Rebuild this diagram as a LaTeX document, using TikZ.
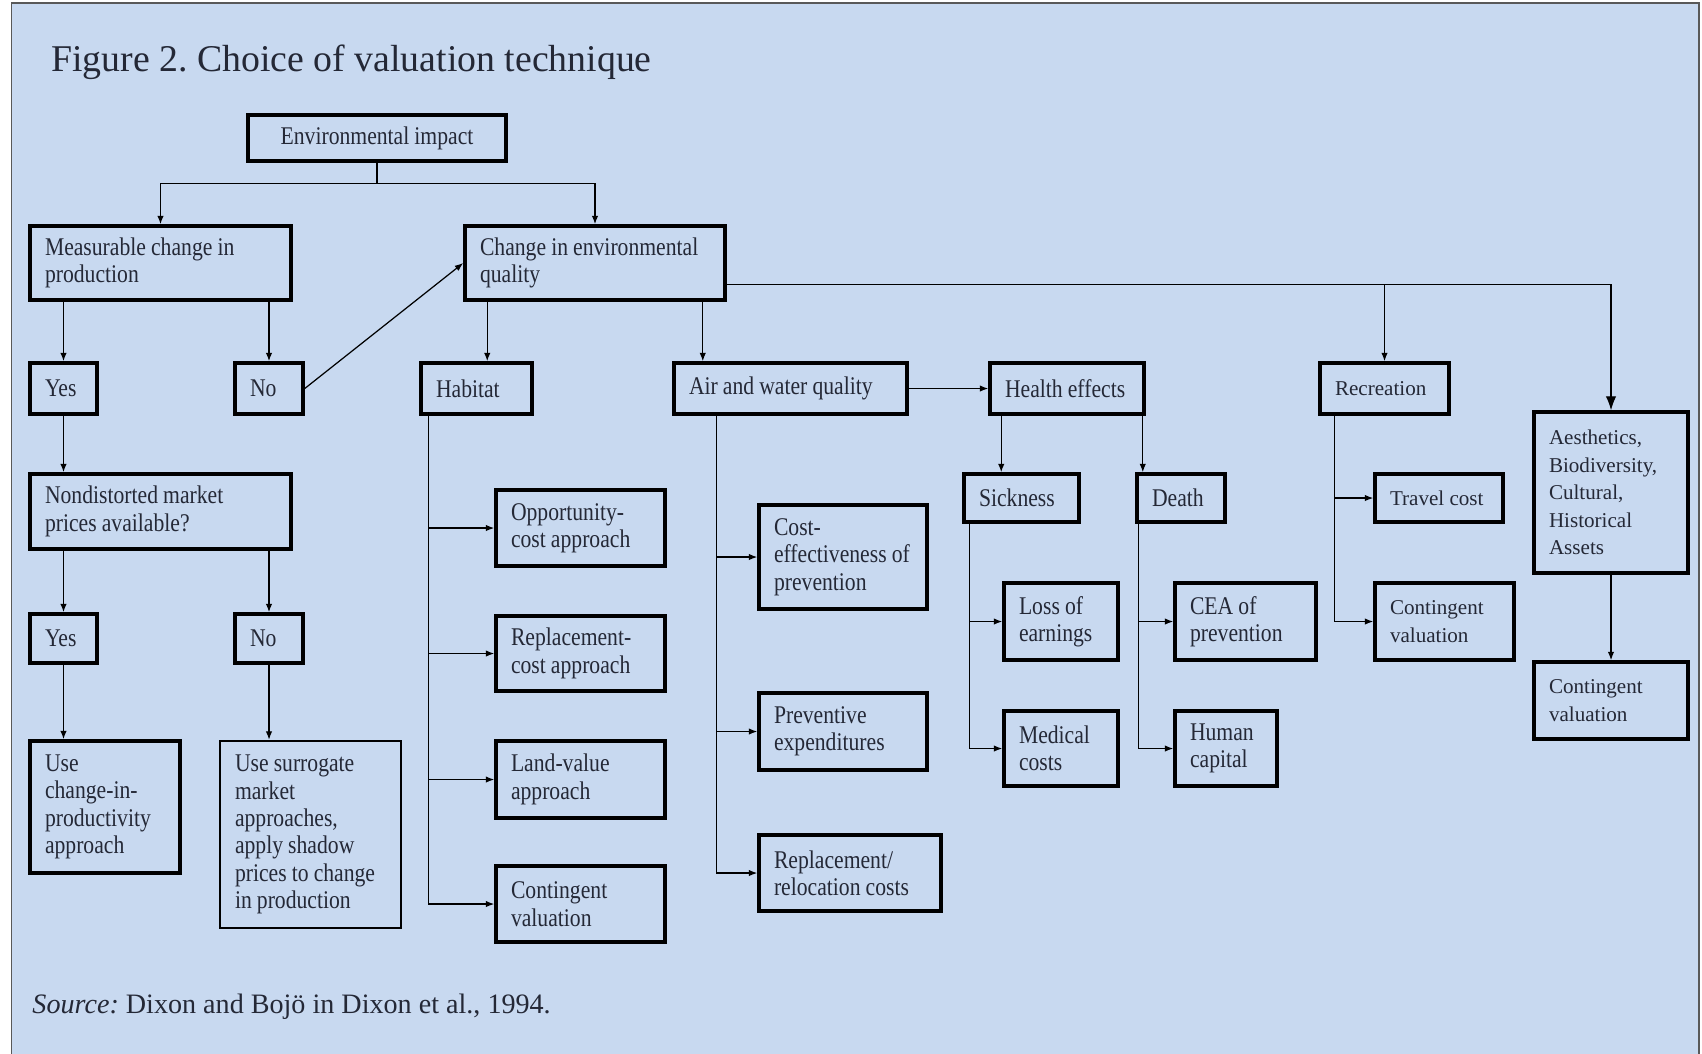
\documentclass[tikz,border=0pt]{standalone}
\usepackage{fontspec}
\setmainfont{Liberation Serif}
\newfontfamily\condfont[FakeStretch=0.85]{Liberation Serif}
\usepackage{xcolor}
\usepackage{tikz}
\usetikzlibrary{arrows.meta}

\definecolor{panel}{RGB}{200,217,240}
\definecolor{ink}{RGB}{36,40,54}
\frenchspacing

\begin{document}
\begin{tikzpicture}[>={Latex[length=1.7mm,width=1.3mm]}, line width=0.7pt]
            \tikzstyle{box} = [draw=black, line width=2pt, inner xsep=0.30cm, inner ysep=0.1cm, align=left, text=ink, font=\condfont\fontsize{14.5}{15.6}\selectfont, execute at begin node={\spaceskip=0.2em\relax}]
            \tikzstyle{rbox} = [box, font=\fontsize{12}{15.6}\selectfont, execute at begin node={\spaceskip=0.25em\relax}]
            \tikzstyle{big} = [-{Latex[length=2.8mm,width=2.1mm]}]

            \useasboundingbox (0,0) rectangle (34.04,-21.06);
            \fill [white] (0,0) rectangle (34.04,-21.06);
            \filldraw [fill=panel, draw=black!65, line width=0.8pt] (0.23,-0.06) rectangle (33.98,-21.2);

            \node [anchor=west, text=ink, font=\fontsize{21.5}{24}\selectfont] (title) at (0.9,-1.24) {Figure 2. Choice of valuation technique};
            \node [anchor=west, text=ink, font=\fontsize{16}{19}\selectfont] (source) at (0.52,-20.14) {\textit{Source:} Dixon and Bojö in Dixon et al., 1994.};

            % top of the tree
            \node [box, align=center, text width=4.56cm, minimum height=0.92cm] (EI) at (7.54,-2.76) {Environmental impact};
            \node [box, text width=4.62cm, minimum height=1.48cm] (Meas) at (3.21,-5.26) {Measurable change in\\production};
            \node [box, text width=4.60cm, minimum height=1.48cm] (Chg) at (11.90,-5.26) {Change in environmental\\quality};

            % production branch
            \node [box, text width=0.74cm, minimum height=1.02cm] (Yes1) at (1.27,-7.77) {Yes};
            \node [box, text width=0.76cm, minimum height=1.02cm] (No1) at (5.38,-7.77) {No};
            \node [box, text width=4.62cm, minimum height=1.50cm] (Mkt) at (3.21,-10.23) {Nondistorted market\\prices available?};
            \node [box, text width=0.74cm, minimum height=0.98cm] (Yes2) at (1.27,-12.77) {Yes};
            \node [box, text width=0.76cm, minimum height=0.98cm] (No2) at (5.38,-12.77) {No};
            \node [box, text width=2.40cm, minimum height=2.64cm] (UseCh) at (2.10,-16.14) {Use\\change-in-\\productivity\\approach};
            \node [box, line width=1.4pt, text width=3.02cm, minimum height=3.74cm] (UseSur) at (6.21,-16.69) {Use surrogate\\market\\approaches,\\apply shadow\\prices to change\\in production};

            % habitat branch
            \node [box, text width=1.62cm, minimum height=1.02cm] (Hab) at (9.53,-7.77) {Habitat};
            \node [box, text width=2.78cm, minimum height=1.52cm] (Opp) at (11.61,-10.56) {Opportunity-\\cost approach};
            \node [box, text width=2.78cm, minimum height=1.50cm] (Repl) at (11.61,-13.07) {Replacement-\\cost approach};
            \node [box, text width=2.78cm, minimum height=1.54cm] (Land) at (11.61,-15.59) {Land-value\\approach};
            \node [box, text width=2.78cm, minimum height=1.52cm] (ContH) at (11.61,-18.08) {Contingent\\valuation};

            % air and water branch
            \node [box, text width=4.06cm, minimum height=1.02cm] (Air) at (15.81,-7.77) {Air and water quality};
            \node [box, text width=2.76cm, minimum height=2.08cm] (CostEff) at (16.86,-11.14) {Cost-\\effectiveness~of\\prevention};
            \node [box, text width=2.76cm, minimum height=1.54cm] (Prev) at (16.86,-14.63) {Preventive\\expenditures};
            \node [box, text width=3.04cm, minimum height=1.52cm] (Reloc) at (17.00,-17.46) {Replacement/\\relocation costs};

            % health branch
            \node [box, text width=2.48cm, minimum height=1.02cm] (Health) at (21.34,-7.77) {Health effects};
            \node [box, text width=1.70cm, minimum height=0.96cm] (Sick) at (20.43,-9.96) {Sickness};
            \node [box, text width=1.16cm, minimum height=0.96cm] (Death) at (23.62,-9.96) {Death};
            \node [box, text width=1.68cm, minimum height=1.54cm] (Loss) at (21.22,-12.43) {Loss of\\earnings};
            \node [box, text width=1.68cm, minimum height=1.50cm] (Med) at (21.22,-14.97) {Medical\\costs};
            \node [box, text width=2.22cm, minimum height=1.54cm] (CEA) at (24.91,-12.43) {CEA of\\prevention};
            \node [box, text width=1.44cm, minimum height=1.50cm] (Human) at (24.52,-14.97) {Human\\capital};

            % recreation and the rest
            \node [rbox, text width=1.98cm, minimum height=1.02cm] (Rec) at (27.69,-7.77) {Recreation};
            \node [rbox, text width=1.96cm, minimum height=0.96cm] (Travel) at (28.78,-9.96) {Travel cost};
            \node [rbox, text width=2.18cm, minimum height=1.54cm] (ContR) at (28.89,-12.43) {Contingent\\valuation};
            \node [rbox, text width=2.48cm, minimum height=3.22cm] (Aes) at (32.22,-9.85) {Aesthetics,\\Biodiversity,\\Cultural,\\Historical\\Assets};
            \node [rbox, text width=2.48cm, minimum height=1.54cm] (ContA) at (32.22,-14.01) {Contingent\\valuation};

            % connectors
            \draw (EI.south) -- ++(0,-0.42) coordinate (split);
            \draw [->] (split) -| (Meas.north);
            \draw [->] (split) -| (Chg.north);

            \draw [->] (Yes1.north |- Meas.south) -- (Yes1.north);
            \draw [->] (No1.north |- Meas.south) -- (No1.north);
            \draw [->] (No1.east) -- (Chg.west);
            \draw [->] (Yes1.south) -- (Yes1.south |- Mkt.north);
            \draw [->] (Yes2.north |- Mkt.south) -- (Yes2.north);
            \draw [->] (No2.north |- Mkt.south) -- (No2.north);
            \draw [->] (Yes2.south) -- (Yes2.south |- UseCh.north);
            \draw [->] (No2.south) -- (No2.south |- UseSur.north);

            \coordinate (cH) at ([xshift=0.48cm]Chg.south west);
            \coordinate (cA) at ([xshift=-0.48cm]Chg.south east);
            \draw [->] (cH) -- (cH |- Hab.north);
            \draw [->] (cA) -- (cA |- Air.north);

            \coordinate (cR) at ([yshift=0.34cm]Chg.south east);
            \draw [->] (cR) -| (Rec.north);
            \draw [big] (cR) -| (Aes.north);

            \draw [->] (Air.east) -- (Health.west);

            \coordinate (hb) at ([xshift=0.18cm]Hab.south west);
            \foreach \n in {Opp, Repl, Land, ContH}
                \draw [->] (hb) |- (\n.west);

            \coordinate (ab) at ([xshift=0.88cm]Air.south west);
            \foreach \n in {CostEff, Prev, Reloc}
                \draw [->] (ab) |- (\n.west);

            \coordinate (hs) at ([xshift=0.26cm]Health.south west);
            \coordinate (hd) at ([xshift=-0.06cm]Health.south east);
            \draw [->] (hs) -- (hs |- Sick.north);
            \draw [->] (hd) -- (hd |- Death.north);

            \coordinate (sb) at ([xshift=0.14cm]Sick.south west);
            \foreach \n in {Loss, Med}
                \draw [->] (sb) |- (\n.west);

            \coordinate (db) at ([xshift=0.06cm]Death.south west);
            \foreach \n in {CEA, Human}
                \draw [->] (db) |- (\n.west);

            \coordinate (rb) at ([xshift=0.32cm]Rec.south west);
            \foreach \n in {Travel, ContR}
                \draw [->] (rb) |- (\n.west);

            \draw [->] (Aes.south) -- (ContA.north);

        \end{tikzpicture}
\end{document}
